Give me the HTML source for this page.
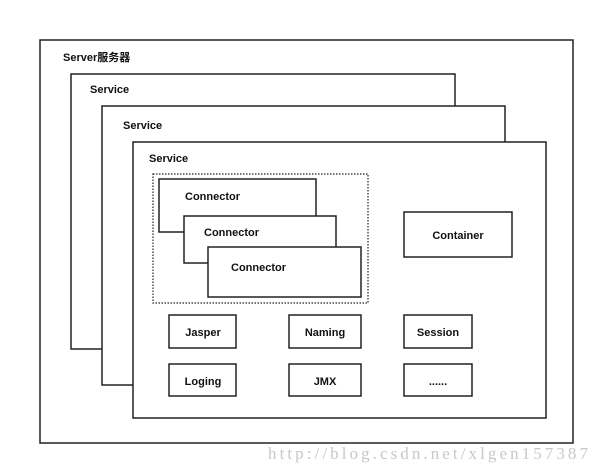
<!DOCTYPE html>
<html><head><style>body{margin:0;background:#fff}</style></head><body>
<svg width="600" height="471" xmlns="http://www.w3.org/2000/svg" style="display:block">
<g fill="#fff" stroke="#222" stroke-width="1.5">
<rect x="40" y="40" width="533" height="403"/>
<rect x="71" y="74" width="384" height="275"/>
<rect x="102" y="106" width="403" height="279"/>
<rect x="133" y="142" width="413" height="276"/>
<rect x="153" y="174" width="215" height="129" stroke-dasharray="1.5,1.5" stroke-width="1.2"/>
<rect x="159" y="179" width="157" height="53"/>
<rect x="184" y="216" width="152" height="47"/>
<rect x="208" y="247" width="153" height="50"/>
<rect x="404" y="212" width="108" height="45"/>
<rect x="169" y="315" width="67" height="33"/>
<rect x="289" y="315" width="72" height="33"/>
<rect x="404" y="315" width="68" height="33"/>
<rect x="169" y="364" width="67" height="32"/>
<rect x="289" y="364" width="72" height="32"/>
<rect x="404" y="364" width="68" height="32"/>
</g>
<g font-family="'Liberation Sans','Noto Sans CJK SC',sans-serif" font-size="11" font-weight="bold" fill="#111">
<text x="63" y="61">Server服务器</text>
<text x="90" y="93">Service</text>
<text x="123" y="129">Service</text>
<text x="149" y="162">Service</text>
<text x="185" y="200">Connector</text>
<text x="204" y="236">Connector</text>
<text x="231" y="271">Connector</text>
<text x="458" y="239" text-anchor="middle">Container</text>
<text x="203" y="336" text-anchor="middle">Jasper</text>
<text x="325" y="336" text-anchor="middle">Naming</text>
<text x="438" y="336" text-anchor="middle">Session</text>
<text x="203" y="385" text-anchor="middle">Loging</text>
<text x="325" y="385" text-anchor="middle">JMX</text>
<text x="438" y="385" text-anchor="middle">......</text>
</g>
<text x="268" y="459" font-family="'Liberation Serif',serif" font-size="17" fill="#c8c8c8" textLength="320">http://blog.csdn.net/xlgen157387</text>
</svg>
</body></html>
